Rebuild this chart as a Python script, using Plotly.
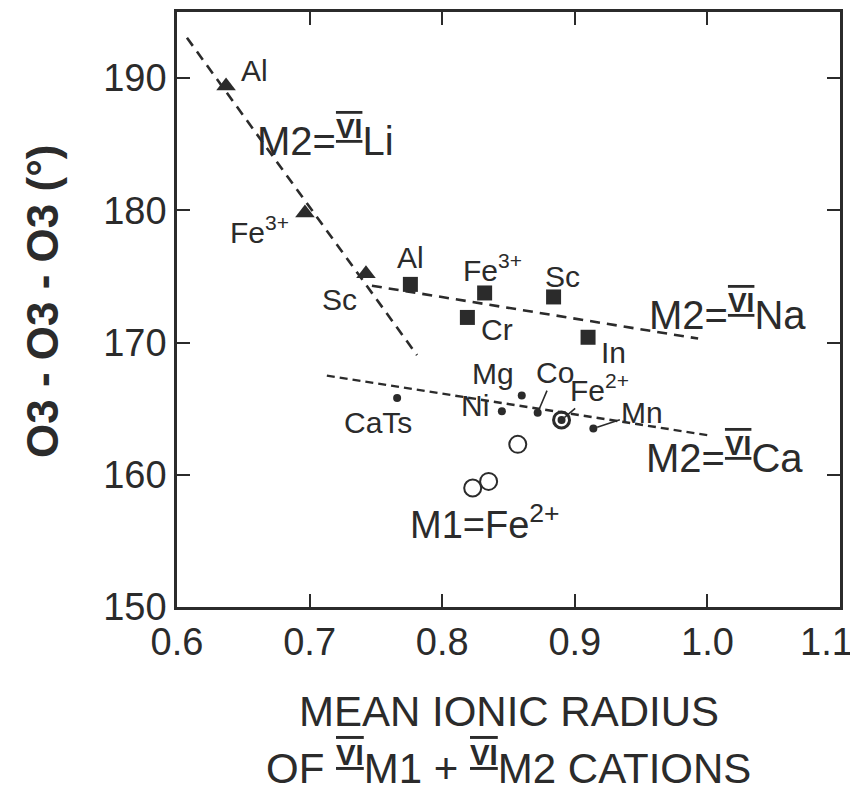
import plotly.graph_objects as go

# ---- data ----
li_x = [0.637, 0.6965, 0.7425]
li_y = [189.4, 179.8, 175.2]
li_labels = ["Al", "Fe<sup>3+</sup>", "Sc"]

na_x = [0.776, 0.832, 0.819, 0.884, 0.910]
na_y = [174.4, 173.75, 171.9, 173.45, 170.4]
na_labels = ["Al", "Fe<sup>3+</sup>", "Cr", "Sc", "In"]

ca_x = [0.766, 0.845, 0.860, 0.872, 0.890, 0.914]
ca_y = [165.8, 164.8, 166.0, 164.7, 164.15, 163.5]
ca_labels = ["CaTs", "Ni", "Mg", "Co", "Fe<sup>2+</sup>", "Mn"]

m1fe_x = [0.857, 0.823, 0.835]
m1fe_y = [162.3, 159.0, 159.5]

li_line_x = [0.6075, 0.781]
li_line_y = [193.05, 169.05]
na_line_x = [0.747, 0.993]
na_line_y = [174.3, 170.3]
ca_line_x = [0.713, 1.0]
ca_line_y = [167.5, 163.0]

x_ticks = [0.6, 0.7, 0.8, 0.9, 1.0, 1.1]
x_ticktext = ["0.6", "0.7", "0.8", "0.9", "1.0", "1.1"]
y_ticks = [150, 160, 170, 180, 190]

INK = "#2b2b2b"
FONT = "Liberation Sans"

fig = go.Figure()

# trend lines
fig.add_trace(go.Scatter(x=li_line_x, y=li_line_y, mode="lines",
                         line=dict(color=INK, width=2.6, dash="10px,7px")))
fig.add_trace(go.Scatter(x=na_line_x, y=na_line_y, mode="lines",
                         line=dict(color=INK, width=2.6, dash="10px,7px")))
fig.add_trace(go.Scatter(x=ca_line_x, y=ca_line_y, mode="lines",
                         line=dict(color=INK, width=2.4, dash="8px,5px")))

# markers
fig.add_trace(go.Scatter(x=li_x, y=li_y, mode="markers",
                         marker=dict(symbol="triangle-up", size=17, color=INK)))
fig.add_trace(go.Scatter(x=na_x, y=na_y, mode="markers",
                         marker=dict(symbol="square", size=15, color=INK)))
fig.add_trace(go.Scatter(x=[ca_x[4]], y=[ca_y[4]], mode="markers",
                         marker=dict(symbol="circle-open", size=16, color=INK,
                                     line=dict(width=3, color=INK))))
fig.add_trace(go.Scatter(x=ca_x, y=ca_y, mode="markers",
                         marker=dict(symbol="circle", size=8, color=INK)))
fig.add_trace(go.Scatter(x=m1fe_x, y=m1fe_y, mode="markers",
                         marker=dict(symbol="circle-open", size=17, color=INK,
                                     line=dict(width=2, color=INK))))

ann = []
lab_font = dict(family=FONT, size=30, color=INK)

li_off = [(28, 16), (-45, -17), (-26, -26)]
for x, y, t, (dx, dy) in zip(li_x, li_y, li_labels, li_off):
    ann.append(dict(x=x, y=y, text=t, showarrow=False, xshift=dx, yshift=dy,
                    xanchor="center", yanchor="middle", font=lab_font))

na_off = [(0, 27), (8, 25), (30, -12), (9, 20), (25, -15)]
for x, y, t, (dx, dy) in zip(na_x, na_y, na_labels, na_off):
    ann.append(dict(x=x, y=y, text=t, showarrow=False, xshift=dx, yshift=dy,
                    xanchor="center", yanchor="middle", font=lab_font))

ca_off = [(-19, -24), (-27, 6), (-29, 22), None, None, None]
for x, y, t, off in zip(ca_x, ca_y, ca_labels, ca_off):
    if off is not None:
        ann.append(dict(x=x, y=y, text=t, showarrow=False, xshift=off[0], yshift=off[1],
                        xanchor="center", yanchor="middle", font=lab_font))
# labels with leader lines
lead = {3: (17, -40), 4: (38, -32), 5: (49, -16)}
for i, (ax_, ay_) in lead.items():
    ann.append(dict(x=ca_x[i], y=ca_y[i], text=ca_labels[i], showarrow=True, arrowhead=0,
                    arrowwidth=1.6, arrowcolor=INK, ax=ax_, ay=ay_, standoff=4,
                    font=lab_font))

VI = "<sup><b><span style='text-decoration:overline underline'>VI</span></b></sup>"
big_font = dict(family=FONT, size=40, color=INK)
ann.append(dict(x=0.712, y=185.5, text="M2=" + VI + "Li", showarrow=False, font=big_font,
                xanchor="center", yanchor="middle"))
ann.append(dict(x=1.0155, y=172.3, text="M2=" + VI + "Na", showarrow=False, font=big_font,
                xanchor="center", yanchor="middle"))
ann.append(dict(x=1.013, y=161.5, text="M2=" + VI + "Ca", showarrow=False, font=big_font,
                xanchor="center", yanchor="middle"))
ann.append(dict(x=0.832, y=156.4, text="M1=Fe<sup>2+</sup>", showarrow=False,
                font=dict(family=FONT, size=38, color=INK),
                xanchor="center", yanchor="middle"))

title_font = dict(family=FONT, size=42, color=INK)
ann.append(dict(xref="paper", yref="paper", x=0.5, y=-0.176, text="MEAN IONIC RADIUS",
                showarrow=False, font=title_font, xanchor="center", yanchor="middle"))
ann.append(dict(xref="paper", yref="paper", x=0.5, y=-0.266,
                text="OF " + VI + "M1 + " + VI + "M2 CATIONS",
                showarrow=False, font=title_font, xanchor="center", yanchor="middle"))
ann.append(dict(xref="paper", yref="paper", x=-0.2036, y=0.5126, text="O3 - O3 - O3 (°)",
                textangle=-90, showarrow=False, xanchor="center", yanchor="middle",
                font=dict(family=FONT, size=44, color=INK, weight="bold")))

tick_font = dict(family=FONT, size=38, color=INK)
# last x tick label sits at the page edge: draw it right-aligned so it stays whole
ann.append(dict(xref="paper", yref="paper", x=1, y=0, text=x_ticktext[-1],
                showarrow=False, xanchor="right", yanchor="middle",
                xshift=15, yshift=-35, font=tick_font))

axis_common = dict(showline=True, linecolor=INK, linewidth=2.5, mirror="ticks",
                   ticks="inside", ticklen=13, tickwidth=2, tickcolor=INK,
                   showgrid=False, zeroline=False,
                   tickfont=tick_font)

fig.update_layout(
    width=850, height=790,
    margin=dict(l=169, r=18, t=4, b=191, autoexpand=False),
    paper_bgcolor="white", plot_bgcolor="white",
    showlegend=False,
    annotations=ann,
    xaxis=dict(range=[0.6, 1.1], tickvals=x_ticks,
               ticktext=x_ticktext[:-1] + [""],
               ticklabelstandoff=0, **axis_common),
    yaxis=dict(range=[150, 195], tickvals=y_ticks, ticklabelstandoff=0, **axis_common),
)

fig.write_html("out.html")
